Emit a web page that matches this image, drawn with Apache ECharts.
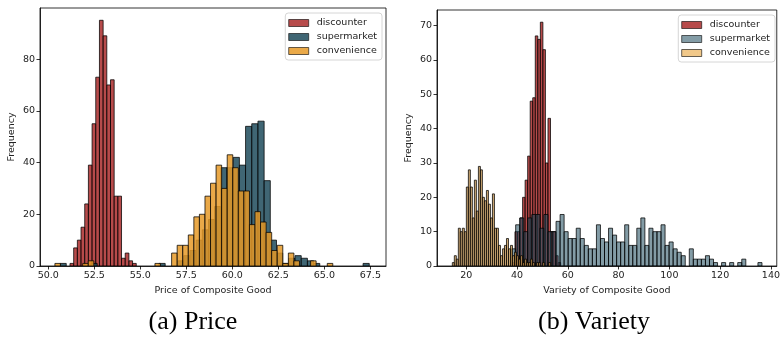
<!DOCTYPE html>
<html>
<head>
<meta charset="utf-8">
<script src="https://cdn.jsdelivr.net/npm/echarts@6/dist/echarts.min.js"></script>
<style>
  html, body { margin: 0; padding: 0; background: #fff; }
  #main { width: 783px; height: 344px; }
</style>
</head>
<body>
<div id="main"></div>
<script>
// --- data: each histogram = first bin edge, bin width, counts ---
const seriesNames = ['discounter', 'supermarket', 'convenience'];

// (a) Price
const priceDiscStart = 51.18, priceDiscWidth = 0.2;
const priceDisc = [1, 7, 10, 15, 24, 39, 55, 73, 95, 89, 70, 72, 27, 27, 3, 5, 2, 1];
const priceSuperStart = 50.64, priceSuperWidth = 0.336;
const priceSuper = [1, 0, 0, 0, 0, 1, 0, 0, 0, 0, 0, 0, 0, 0, 0, 0, 1, 0, 0, 2,
                    4, 6, 10, 14, 18, 23, 38, 38, 42, 39, 54, 55, 56, 33, 10, 5, 1, 3, 4, 3,
                    2, 1, 0, 0, 0, 0, 0, 0, 0, 1];
const priceConvStart = 50.36, priceConvWidth = 0.302;
const priceConv = [1, 0, 0, 0, 0, 1, 2, 0, 0, 0, 0, 0, 0, 0, 0, 0, 0, 0, 1, 0,
                   0, 5, 8, 8, 12, 19, 20, 27, 32, 39, 30, 43, 38, 29, 29, 16, 21, 17, 13, 6,
                   8, 1, 5, 2, 0, 0, 2, 0, 0, 1];

// (b) Variety
const varDiscStart = 38.2, varDiscWidth = 1.0;
const varDisc = [1, 10, 10, 14, 20, 25, 32, 48, 49, 67, 66, 71, 63, 30, 43, 10, 10, 3, 1];
const varSuperStart = 37.89, varSuperWidth = 1.59;
const varSuper = [5, 12, 14, 10, 14, 15, 15, 11, 15, 10, 10, 13, 15, 10, 8, 8, 11, 8, 6, 5,
                  5, 12, 8, 7, 11, 9, 7, 7, 12, 6, 6, 11, 14, 6, 11, 10, 10, 12, 6, 7,
                  5, 4, 3, 0, 5, 2, 2, 2, 3, 2, 1, 0, 1, 0, 1, 0, 1, 2, 0, 0, 0, 1];
const varConvStart = 14.53, varConvWidth = 0.79;
const varConv = [1, 3, 2, 11, 10, 11, 10, 23, 28, 23, 14, 25, 16, 29, 28, 20, 19, 22, 18, 14,
                 21, 11, 11, 6, 3, 5, 6, 8, 5, 6, 3, 4, 3, 2, 3, 1, 2, 1, 1, 2,
                 1, 0, 1, 1, 0, 1, 0, 0, 1, 0];

// tick labels
const priceTicks = [50, 52.5, 55, 57.5, 60, 62.5, 65, 67.5];
const priceFreqTicks = [0, 20, 40, 60, 80];
const varTicks = [20, 40, 60, 80, 100, 120, 140];
const varFreqTicks = [0, 10, 20, 30, 40, 50, 60, 70];

const toBins = (start, width, counts) =>
  counts.map((c, i) => [start + i * width, start + (i + 1) * width, c]);

// bar fills; the right panel's legend patches are lighter than its thin, dense bars look
const colors = {
  left: ['rgba(165,30,30,0.8)', 'rgba(30,75,92,0.85)', 'rgba(230,154,40,0.85)'],
  right: ['rgba(165,30,30,0.8)', 'rgba(30,75,92,0.55)', 'rgba(190,140,70,0.75)']
};
const legendColors = {
  left: colors.left,
  right: ['rgba(165,30,30,0.8)', 'rgba(30,75,92,0.55)', 'rgba(230,154,40,0.55)']
};
const edge = 'rgba(0,0,0,0.75)';
const font = 'DejaVu Sans';

function renderBin(params, api) {
  const n = api.value(2);
  if (!n) return;
  const p0 = api.coord([api.value(0), n]);
  const p1 = api.coord([api.value(1), 0]);
  return {
    type: 'rect',
    shape: { x: p0[0], y: p0[1], width: p1[0] - p0[0], height: p1[1] - p0[1] },
    style: { fill: api.visual('color'), stroke: edge, lineWidth: 1 }
  };
}

function hist(name, idx, color, bins) {
  return {
    name: name,
    type: 'custom',
    xAxisIndex: idx,
    yAxisIndex: idx,
    renderItem: renderBin,
    encode: { x: [0, 1], y: 2 },
    itemStyle: { color: color },
    clip: true,
    silent: true,
    data: bins
  };
}

function xAx(idx, min, max, ticks, name, fmt) {
  return {
    type: 'value', gridIndex: idx, min: min, max: max,
    name: name, nameLocation: 'middle', nameGap: 20,
    nameTextStyle: { fontFamily: font, fontSize: 9.5, color: '#222' },
    splitLine: { show: false },
    axisLine: { show: true, lineStyle: { color: '#000', width: 0.8 } },
    axisTick: { show: true, length: 3.5, customValues: ticks, lineStyle: { color: '#000', width: 0.8 } },
    axisLabel: { customValues: ticks, formatter: fmt, fontFamily: font, fontSize: 9.5, color: '#222', margin: 5 }
  };
}

function yAx(idx, max, ticks) {
  return {
    type: 'value', gridIndex: idx, min: 0, max: max,
    name: 'Frequency', nameLocation: 'middle', nameGap: 23,
    nameTextStyle: { fontFamily: font, fontSize: 9.5, color: '#222' },
    splitLine: { show: false },
    axisLine: { show: true, lineStyle: { color: '#000', width: 0.8 } },
    axisTick: { show: true, length: 3.5, customValues: ticks, lineStyle: { color: '#000', width: 0.8 } },
    axisLabel: { customValues: ticks, fontFamily: font, fontSize: 9.5, color: '#222', margin: 5 }
  };
}

function legendFor(right, top, cols) {
  return {
    orient: 'vertical', right: right, top: top,
    icon: 'rect', itemWidth: 20, itemHeight: 7, itemGap: 4,
    padding: [5, 5, 4, 3],
    borderColor: '#ccc', borderWidth: 0.8, borderRadius: 3,
    backgroundColor: 'rgba(255,255,255,0.8)',
    textStyle: { fontFamily: font, fontSize: 9.5, color: '#222', padding: [0, 0, 0, 3] },
    data: seriesNames.map((n, i) => ({
      name: n, itemStyle: { color: cols[i], borderColor: edge, borderWidth: 0.8 }
    }))
  };
}

const chart = echarts.init(document.getElementById('main'), null, { renderer: 'canvas' });

chart.setOption({
  animation: false,
  grid: [
    { left: 40, top: 8, width: 346, height: 258, show: true, borderColor: '#000', borderWidth: 0.8 },
    { left: 437, top: 10, width: 342, height: 256, show: true, borderColor: '#000', borderWidth: 0.8 }
  ],
  xAxis: [
    xAx(0, 49.55, 68.35, priceTicks, 'Price of Composite Good', v => v.toFixed(1)),
    xAx(1, 8.5, 142.3, varTicks, 'Variety of Composite Good', v => String(v))
  ],
  yAxis: [
    yAx(0, 99.75, priceFreqTicks),
    yAx(1, 74.55, varFreqTicks)
  ],
  legend: [
    legendFor(401, 13, legendColors.left),
    legendFor(8, 15, legendColors.right)
  ],
  graphic: [
    { type: 'text', x: 193, y: 322, style: { text: '(a) Price', fontFamily: 'Liberation Serif', fontSize: 26, fill: '#000', align: 'center', verticalAlign: 'middle' } },
    { type: 'text', x: 594, y: 322, style: { text: '(b) Variety', fontFamily: 'Liberation Serif', fontSize: 26, fill: '#000', align: 'center', verticalAlign: 'middle' } }
  ],
  series: [
    hist('discounter', 0, colors.left[0], toBins(priceDiscStart, priceDiscWidth, priceDisc)),
    hist('supermarket', 0, colors.left[1], toBins(priceSuperStart, priceSuperWidth, priceSuper)),
    hist('convenience', 0, colors.left[2], toBins(priceConvStart, priceConvWidth, priceConv)),
    hist('discounter', 1, colors.right[0], toBins(varDiscStart, varDiscWidth, varDisc)),
    hist('supermarket', 1, colors.right[1], toBins(varSuperStart, varSuperWidth, varSuper)),
    hist('convenience', 1, colors.right[2], toBins(varConvStart, varConvWidth, varConv))
  ]
});
</script>
</body>
</html>
